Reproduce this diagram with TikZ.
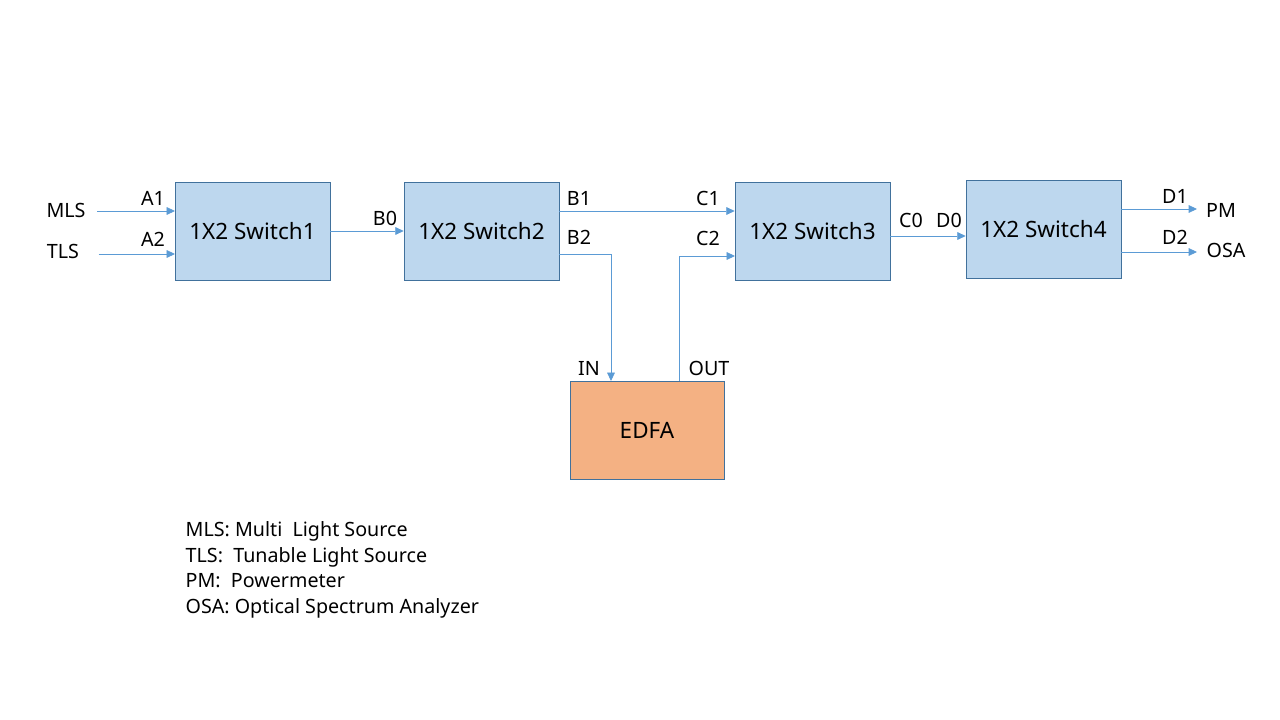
\documentclass[tikz,border=0pt]{standalone}
\usepackage{fontspec}
\setmainfont{Noto Sans}
\usepackage{xcolor}
\usetikzlibrary{arrows.meta, positioning}
\definecolor{boxblue}{RGB}{189, 215, 238}
\definecolor{edgeblue}{RGB}{65, 113, 156}
\definecolor{linkblue}{RGB}{91, 155, 213}
\definecolor{ampcolor}{RGB}{244, 177, 131}

\begin{document}
\begin{tikzpicture}[
    x=0.025cm, y=-0.025cm,
    switchbox/.style={draw=edgeblue, fill=boxblue, minimum width=3.875cm, minimum height=2.45cm, font=\fontsize{16}{19}\selectfont},
    ampbox/.style={draw=edgeblue, fill=ampcolor, minimum width=3.85cm, minimum height=2.45cm, font=\fontsize{16}{19}\selectfont},
    port/.style={font=\fontsize{14}{16}\selectfont, inner sep=1pt},
    link/.style={linkblue, line width=0.6pt, -{Triangle[length=6pt, width=5.5pt]}}
]
    \useasboundingbox (0,0) rectangle (1280,720);

    % Switches
    \node[switchbox] (sw1) at (252.5, 231) {1X2 Switch1};
    \node[switchbox] (sw2) at (481.5, 231) {1X2 Switch2};
    \node[switchbox] (sw3) at (812.5, 231) {1X2 Switch3};
    \node[switchbox] (sw4) at (1043.5, 229.5) {1X2 Switch4};

    % Amplifier
    \node[ampbox] (edfa) at (647, 430) {EDFA};

    % Sources and instruments
    \node[port] (mls) at (66, 210) {MLS};
    \node[port] (tls) at (63, 251) {TLS};
    \node[port] (pm) at (1221, 210) {PM};
    \node[port] (osa) at (1226, 250) {OSA};

    % Port points
    \coordinate (a1) at (175, 211);
    \coordinate (a2) at (175, 254);
    \coordinate (b2) at (559, 254);
    \coordinate (in) at (611, 381);
    \coordinate (out) at (679, 381);
    \coordinate (c2) at (735, 256);
    \coordinate (b1) at (559, 211);
    \coordinate (c0) at (890, 236);
    \coordinate (d1) at (1121, 209);
    \coordinate (d2) at (1121, 252);
    \coordinate (pmend) at (1197, 209);
    \coordinate (osaend) at (1197, 252);

    % Connections
    \draw[link, shorten <=0.25cm] (mls.east |- a1) -- (a1);
    \draw[link, shorten <=0.45cm] (tls.east |- a2) -- (a2);
    \draw[link] (sw1) -- (sw2);
    \draw[link] (b1) -- (b1 -| sw3.west);
    \draw[link] (b2) -| (in);
    \draw[link] (out) |- (c2);
    \draw[link] (c0) -- (c0 -| sw4.west);
    \draw[link] (d1) -- (pmend);
    \draw[link] (d2) -- (osaend);

    % Port labels
    \node[port] (la1) at (153, 198) {A1};
    \node[port] (la2) at (153, 239) {A2};
    \node[port] (lb0) at (385, 218) {B0};
    \node[port] (lb1) at (579, 198) {B1};
    \node[port] (lb2) at (579, 237) {B2};
    \node[port] (lc1) at (708, 198) {C1};
    \node[port] (lc2) at (708, 238) {C2};
    \node[port] (lin) at (589, 368) {IN};
    \node[port] (lout) at (709, 368) {OUT};
    \node[port] (lc0) at (911, 220) {C0};
    \node[port] (ld0) at (949, 220) {D0};
    \node[port] (ld1) at (1175, 196) {D1};
    \node[port] (ld2) at (1175, 237) {D2};

    % Legend
    \node[port, anchor=base west] (key1) at (184, 536) {MLS: Multi\ \ Light Source};
    \node[port, anchor=base west] (key2) at (184, 562) {TLS:\ \ Tunable Light Source};
    \node[port, anchor=base west] (key3) at (184, 587) {PM:\ \ Powermeter};
    \node[port, anchor=base west] (key4) at (184, 613) {OSA: Optical Spectrum Analyzer};

\end{tikzpicture}
\end{document}
